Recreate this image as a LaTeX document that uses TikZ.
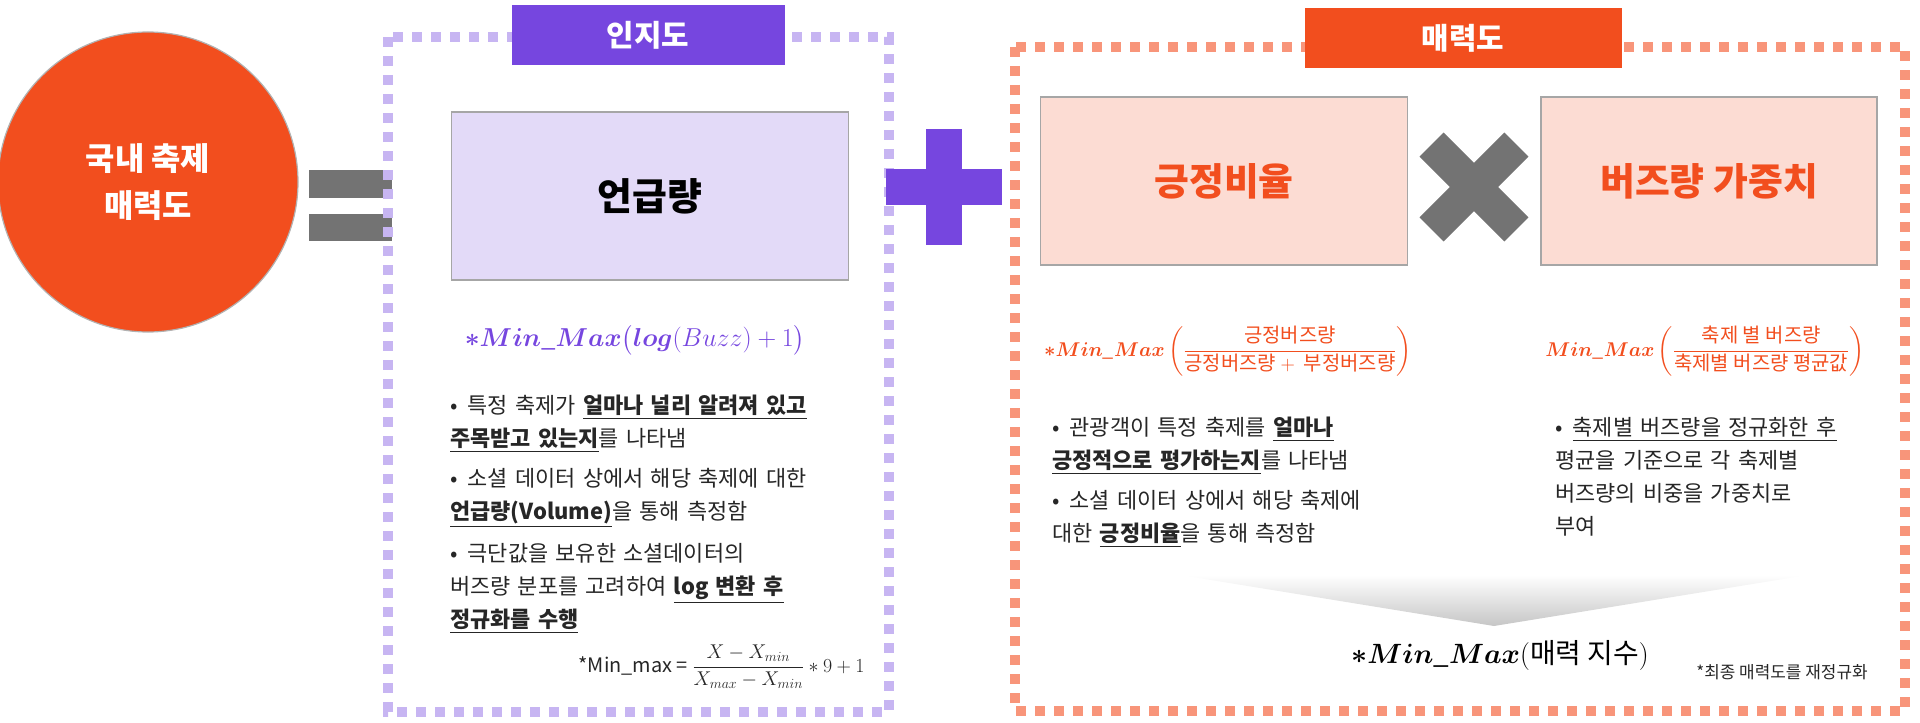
\RequirePackage{fix-cm}
\documentclass[tikz,border=0pt]{standalone}
\usepackage{fontspec}
\usepackage{amsmath}
\setmainfont{Noto Sans CJK KR}
\usetikzlibrary{positioning}
\usetikzlibrary{calc}
\definecolor{purp}{HTML}{7646DF}
\definecolor{lav}{HTML}{E3DAF8}
\definecolor{lavdash}{HTML}{C7B5F2}
\definecolor{org}{HTML}{F24E1E}
\definecolor{peach}{HTML}{FCDCD3}
\definecolor{orgdash}{HTML}{F8957A}
\definecolor{txt}{HTML}{262626}
\newcommand{\bul}[1]{\raggedright\hangindent=0.8em\hangafter=1\noindent\makebox[0.8em][l]{•}#1}
\newcommand{\ul}[1]{\underline{\textbf{#1}}}
\begin{document}
\begin{tikzpicture}[x=1bp,y=-1bp,
    frame/.style={line width=10bp,dash pattern=on 10bp off 9bp},
    title/.style={minimum width=#1,minimum height=60bp,text=white,font=\fontsize{30}{36}\selectfont\bfseries},
    card/.style={draw=gray!70,line width=1.2bp,minimum height=168bp,font=\fontsize{38}{44}\selectfont\bfseries},
    bullet/.style={anchor=north west,text width=#1,inner sep=0,text=txt,font=\fontsize{22}{33}\selectfont},
    bar/.style={fill=gray!90!black,minimum width=83bp,minimum height=27bp}]
    \useasboundingbox (0,0) rectangle (1920,723);
    % Define the main circle and equals sign
    \node[circle,fill=org,draw=gray!60,line width=1.2bp,minimum size=300bp,text=white,align=center,
      font=\fontsize{32}{48}\selectfont\bfseries] (total) at (148,182) {국내 축제\\매력도};
    \node[bar] (eqa) at (350,184) {};
    \node[bar] (eqb) at (350,227) {};

    % Draw the awareness frame
    \draw[frame,draw=lavdash] (388,37) rectangle (889,712);
    \node[title=273bp,fill=purp] (aware) at (648,35) {인지도};
    \node[card,fill=lav,minimum width=397bp] (mention) at (650,196) {언급량};
    \node[text=purp,font=\fontsize{26}{32}\selectfont] (fa) at (635,340)
      {$\boldsymbol{*Min\_Max}\bigl(\boldsymbol{log}(Buzz)+1\bigr)$};
    \node[bullet=360bp] (ba) at (450,395) {\bul{특정 축제가 \ul{얼마나 널리 알려져 있고}\\\ul{주목받고 있는지}를 나타냄}};
    \node[bullet=360bp,below=15bp of ba.south west,anchor=north west] (bb) {\bul{소셜 데이터 상에서 해당 축제에 대한\\\ul{언급량(Volume)}을 통해 측정함}};
    \node[bullet=360bp,below=15bp of bb.south west,anchor=north west] (bc) {\bul{극단값을 보유한 소셜데이터의\\버즈량 분포를 고려하여 \ul{log 변환 후}\\\ul{정규화를 수행}}};
    \node[anchor=east,text=txt,font=\fontsize{20}{24}\selectfont] (fm) at (868,667)
      {*\textit{Min\_max} = $\dfrac{X-X_{min}}{X_{max}-X_{min}}*9+1$};

    % Draw the plus sign
    \fill[purp] (944,187) +(-58,-18) rectangle +(58,18);
    \fill[purp] (944,187) +(-18,-58) rectangle +(18,58);

    % Draw the attraction frame
    \draw[frame,draw=orgdash] (1015,47) rectangle (1905,711);
    \node[title=317bp,fill=org] (attract) at (1463,38) {매력도};
    \node[card,fill=peach,minimum width=367bp,text=org] (ratio) at (1224,181) {긍정비율};
    \node[card,fill=peach,minimum width=336bp,text=org] (weight) at (1709,181) {버즈량 가중치};
    \fill[gray!90!black,rotate around={45:(1474,187)}] (1474,187) +(-60,-17) rectangle +(60,17);
    \fill[gray!90!black,rotate around={45:(1474,187)}] (1474,187) +(-17,-60) rectangle +(17,60);
    \node[text=org,font=\fontsize{20}{24}\selectfont] (fr) at (1228,351)
      {$\boldsymbol{*Min\_Max}\left(\dfrac{\text{긍정버즈량}}{\text{긍정버즈량}+\ \text{부정버즈량}}\right)$};
    \node[text=org,font=\fontsize{20}{24}\selectfont] (fw) at (1705,351)
      {$\boldsymbol{Min\_Max}\left(\dfrac{\text{축제 별 버즈량}}{\text{축제별 버즈량 평균값}}\right)$};
    \node[bullet=330bp] (bd) at (1052,417) {\bul{관광객이 특정 축제를 \ul{얼마나}\\\ul{긍정적으로 평가하는지}를 나타냄}};
    \node[bullet=330bp,below=15bp of bd.south west,anchor=north west] (be) {\bul{소셜 데이터 상에서 해당 축제에\\대한 \ul{긍정비율}을 통해 측정함}};
    \node[bullet=320bp] (bf) at (1555,417) {\bul{\underline{축제별 버즈량을 정규화한 후}\\평균을 기준으로 각 축제별\\버즈량의 비중을 가중치로\\부여}};
    \shade[top color=white,bottom color=gray!45] (1180,575) -- (1808,575) -- (1494,626) -- cycle;
    \node[text=black,font=\fontsize{28}{34}\selectfont] (idx) at (1500,655)
      {$\boldsymbol{*Min\_Max}(\text{매력 지수})$};
    \node[text=txt,font=\fontsize{17}{20}\selectfont\itshape] (note) at (1782,672) {*최종 매력도를 재정규화};
\end{tikzpicture}
\end{document}
